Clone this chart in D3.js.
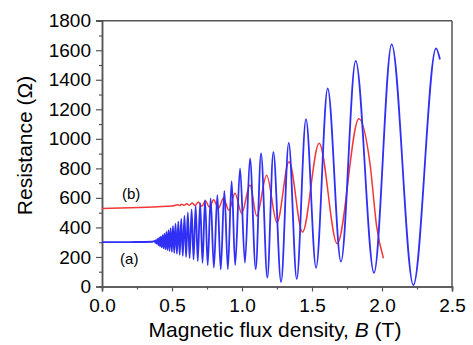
<!DOCTYPE html>
<html>
<head>
<meta charset="utf-8">
<script src="https://cdn.jsdelivr.net/npm/d3@7"></script>
<style>
  body { margin: 0; background: #fff; }
  text { font-family: Arial, "Liberation Sans", sans-serif; fill: #000; }
</style>
</head>
<body>
<svg width="473" height="345"></svg>
<script>
// curve (a), blue: field in T, resistance in ohm (peaks / troughs)
var blueField = [0, 0.2, 0.36, 0.377, 0.382, 0.387, 0.392, 0.398, 0.403, 0.409, 0.414, 0.42, 0.426,
  0.433, 0.439, 0.446, 0.453, 0.46, 0.467, 0.475, 0.482, 0.49, 0.499, 0.507, 0.516, 0.525, 0.535,
  0.545, 0.555, 0.566, 0.577, 0.589, 0.601, 0.613, 0.626, 0.64, 0.654, 0.669, 0.684, 0.701, 0.718,
  0.736, 0.755, 0.776, 0.799, 0.824, 0.848, 0.874, 0.899, 0.926, 0.951, 0.986, 1.021, 1.057, 1.098,
  1.136, 1.181, 1.224, 1.279, 1.334, 1.391, 1.457, 1.529, 1.612, 1.707, 1.812, 1.943, 2.069, 2.224,
  2.386, 2.414]
var blueRes = [300, 301, 303, 308, 295, 315, 288, 322, 280, 330, 272, 338, 265,
  348, 258, 358, 252, 370, 246, 382, 240, 395, 234, 410, 228, 425, 222,
  440, 215, 458, 208, 478, 200, 500, 192, 522, 183, 545, 172, 565, 160,
  585, 145, 597, 128, 619, 115, 648, 118, 714, 145, 800, 161, 868, 118,
  902, 60, 910, 30, 973, 51, 1133, 127, 1341, 168, 1528, 93, 1639, 10,
  1612, 1537]

// curve (b), red
var redField = [0, 0.2, 0.4, 0.5, 0.54, 0.555, 0.57, 0.587, 0.605, 0.624, 0.644, 0.665, 0.688,
  0.713, 0.739, 0.767, 0.798, 0.831, 0.867, 0.907, 0.95, 0.998, 1.057, 1.105, 1.176, 1.25, 1.336,
  1.432, 1.551, 1.68, 1.835, 1.914, 1.962, 2.01]
var redRes = [528, 533, 540, 545, 553, 548, 557, 550, 561, 550, 566, 548, 572,
  543, 580, 538, 588, 528, 598, 515, 631, 495, 687, 478, 754, 432, 845,
  368, 970, 290, 1136, 834, 405, 191]

var xTicks = [0, 0.5, 1.0, 1.5, 2.0, 2.5]
var xMinor = [0.25, 0.75, 1.25, 1.75, 2.25]
var yTicks = [0, 200, 400, 600, 800, 1000, 1200, 1400, 1600, 1800]
var yMinor = [100, 300, 500, 700, 900, 1100, 1300, 1500, 1700]

var labelText = ['(b)', '(a)']
var labelField = [0.143, 0.129]
var labelRes = [592, 152]

var svg = d3.select('svg'),
  margin = {top: 20.7, right: 21, bottom: 58.5, left: 102},
  width = +svg.attr('width') - margin.left - margin.right,
  height = +svg.attr('height') - margin.top - margin.bottom,
  g = svg.append('g').attr('transform', 'translate(' + margin.left + ',' + margin.top + ')')

var x = d3.scaleLinear().domain([0, 2.5]).range([0, width])
var y = d3.scaleLinear().domain([0, 1800]).range([height, 0])

var axisColor = '#555'

// frame (top and right)
g.append('line').attr('x1', -6).attr('x2', width).attr('y1', 0).attr('y2', 0)
  .attr('stroke', axisColor).attr('stroke-width', 1.5)
g.append('line').attr('x1', width).attr('x2', width).attr('y1', 0).attr('y2', height)
  .attr('stroke', axisColor).attr('stroke-width', 1.5)

// minor ticks
g.append('g').attr('transform', 'translate(0,' + height + ')')
  .call(d3.axisBottom(x).tickValues(xMinor).tickSize(3).tickFormat(''))
g.append('g')
  .call(d3.axisLeft(y).tickValues(yMinor).tickSize(3).tickFormat(''))

// major axes
g.append('g').attr('transform', 'translate(0,' + height + ')')
  .call(d3.axisBottom(x).tickValues(xTicks).tickSize(5).tickPadding(7).tickFormat(d3.format('.1f')))
g.append('g')
  .call(d3.axisLeft(y).tickValues(yTicks).tickSize(6).tickPadding(5).tickFormat(d3.format('d')))

g.selectAll('.domain').attr('stroke', axisColor).attr('stroke-width', 1.5)
g.selectAll('.tick line').attr('stroke', axisColor).attr('stroke-width', 1.2)
g.selectAll('.tick text').style('font-size', '19px').attr('fill', '#000')
  .style('font-family', 'Arial, "Liberation Sans", sans-serif')

var line = d3.line()
  .x(function(d) { return x(d[0]) })
  .y(function(d) { return y(d[1]) })
  .curve(d3.curveMonotoneX)

var blue = blueField.map(function(b, i) { return [b, blueRes[i]] })
var red = redField.map(function(b, i) { return [b, redRes[i]] })

g.append('path').datum(red)
  .attr('d', line).attr('fill', 'none').attr('stroke', '#f23838').attr('stroke-width', 1.5)
g.append('path').datum(blue)
  .attr('d', line).attr('fill', 'none').attr('stroke', '#2f2ff5').attr('stroke-width', 1.8)

g.selectAll('.lbl').data(labelText).enter().append('text')
  .attr('class', 'lbl')
  .attr('x', function(d, i) { return x(labelField[i]) })
  .attr('y', function(d, i) { return y(labelRes[i]) })
  .style('font-size', '15px')
  .text(function(d) { return d })

// axis titles
var xt = svg.append('text')
  .attr('x', margin.left + width / 2 - 2)
  .attr('y', 337)
  .attr('text-anchor', 'middle')
  .style('font-size', '21px')
xt.append('tspan').text('Magnetic flux density, ')
xt.append('tspan').style('font-style', 'italic').text('B')
xt.append('tspan').text(' (T)')

svg.append('text')
  .attr('transform', 'translate(32,' + 145.5 + ') rotate(-90)')
  .attr('text-anchor', 'middle')
  .style('font-size', '21px')
  .text('Resistance (Ω)')
</script>
</body>
</html>
